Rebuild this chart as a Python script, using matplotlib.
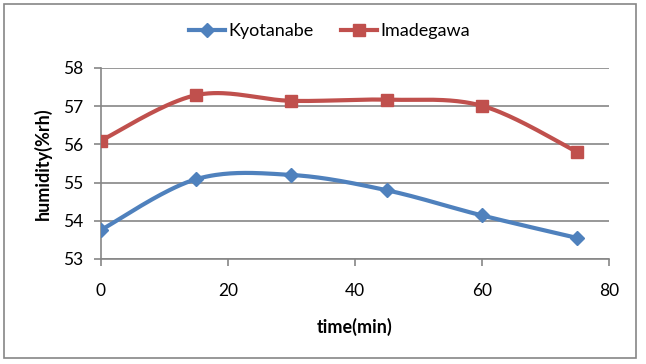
import numpy as np
import matplotlib
matplotlib.use('Agg')
from matplotlib import pyplot as plt
from matplotlib.patches import Rectangle

plt.rcParams['font.family'] = ['Lato', 'DejaVu Sans']

# Data
time_min = [0, 15, 30, 45, 60, 75]
kyotanabe = [53.76, 55.09, 55.2, 54.8, 54.14, 53.55]
imadegawa = [56.1, 57.29, 57.14, 57.17, 57.01, 55.8]

BLUE = '#4F81BD'
RED = '#C0504D'
GRID = '#868686'


def smooth(x, y, n=40):
    # Excel-style smoothed line: cubic Bezier through the points
    x = np.asarray(x, float)
    y = np.asarray(y, float)
    pts = np.column_stack([x, y])
    out = [pts[0]]
    for i in range(len(pts) - 1):
        p0 = pts[i - 1] if i > 0 else pts[i]
        p1 = pts[i]
        p2 = pts[i + 1]
        p3 = pts[i + 2] if i + 2 < len(pts) else pts[i + 1]
        c1 = p1 + (p2 - p0) / 6.0
        c2 = p2 - (p3 - p1) / 6.0
        t = np.linspace(0, 1, n)[1:, None]
        seg = ((1 - t) ** 3) * p1 + 3 * ((1 - t) ** 2) * t * c1 \
            + 3 * (1 - t) * t ** 2 * c2 + t ** 3 * p2
        out.extend(seg)
    out = np.array(out)
    return out[:, 0], out[:, 1]


fig = plt.figure(figsize=(6.46, 3.64), dpi=100)
ax = fig.add_axes([0.1563, 0.2885, 0.7864, 0.5247])

for vals, color, marker, ms, label in [
        (kyotanabe, BLUE, 'D', 7, 'Kyotanabe'),
        (imadegawa, RED, 's', 9, 'Imadegawa')]:
    sx, sy = smooth(time_min, vals)
    ax.plot(sx, sy, color=color, lw=3, solid_capstyle='round', zorder=3)
    ax.plot(time_min, vals, ls='none', marker=marker, ms=ms, color=color, zorder=4)
    ax.plot([], [], color=color, lw=3, marker=marker, ms=ms, label=label)

ax.set_xlim(0, 80)
ax.set_ylim(53, 58)
ax.set_xticks([0, 20, 40, 60, 80])
ax.set_yticks([53, 54, 55, 56, 57, 58])
ax.yaxis.grid(True, color=GRID, lw=1.2)
ax.set_axisbelow(True)
for s in ['top', 'right']:
    ax.spines[s].set_visible(False)
for s in ['left', 'bottom']:
    ax.spines[s].set_color(GRID)
    ax.spines[s].set_linewidth(1.2)
ax.tick_params(axis='both', colors=GRID, labelcolor='black', labelsize=12.5,
               length=5, width=1.2)
ax.tick_params(axis='x', pad=12)
ax.tick_params(axis='y', pad=8)

ax.set_xlabel('time(min)', fontsize=13, fontweight='bold', labelpad=14)
ax.set_ylabel('humidity(%rh)', fontsize=13, fontweight='bold', labelpad=8)

handles, labels = ax.get_legend_handles_labels()
fig.legend(handles, labels, loc='center', bbox_to_anchor=(0.51, 0.915), ncol=2,
           frameon=False, fontsize=13, handlelength=2.0, columnspacing=1.5,
           handletextpad=0.2)

fig.patches.append(Rectangle((0.006, 0.016), 0.979, 0.973, transform=fig.transFigure,
                             fill=False, edgecolor=GRID, lw=1.2))

fig.savefig('out.png', dpi=100)
plt.close(fig)
